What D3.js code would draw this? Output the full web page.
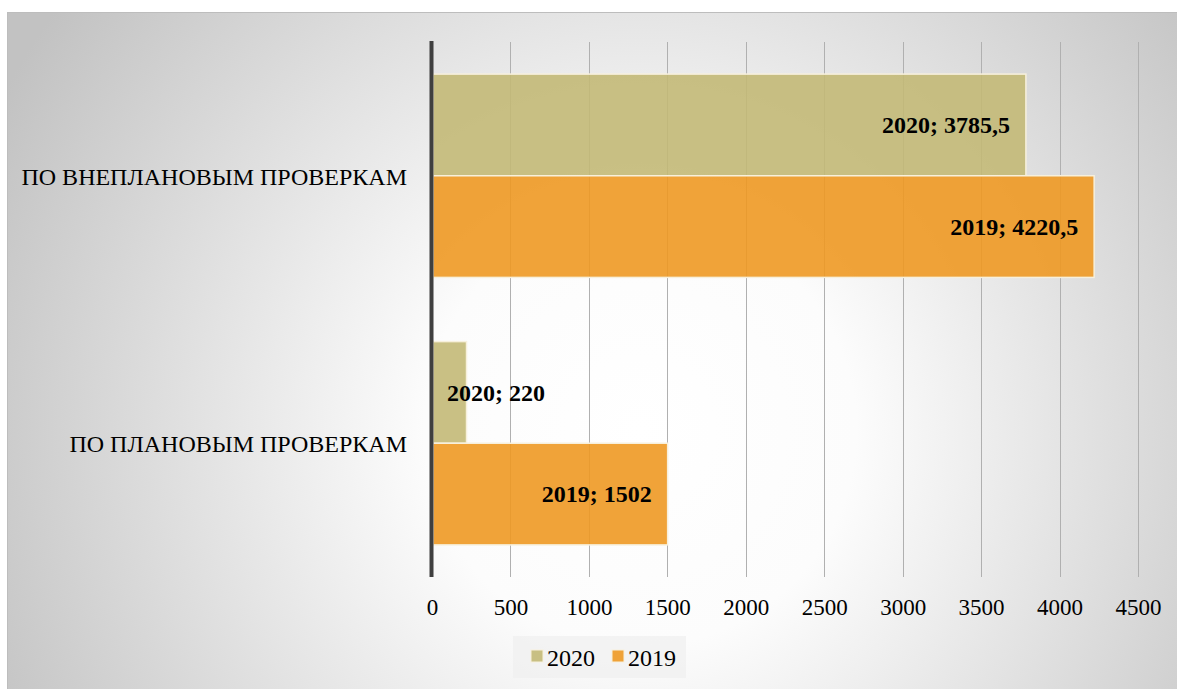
<!DOCTYPE html>
<html>
<head>
<meta charset="utf-8">
<script src="https://cdn.jsdelivr.net/npm/d3@7"></script>
<style>
html, body { margin: 0; padding: 0; background: #ffffff; }
svg { display: block; }
svg text { font-family: "Liberation Serif", "Times New Roman", Times, "DejaVu Serif", serif; }
</style>
</head>
<body>
<svg id="chart" width="1177" height="689"></svg>
<script>
// ---- data ----
const categories = ["ПО ВНЕПЛАНОВЫМ ПРОВЕРКАМ", "ПО ПЛАНОВЫМ ПРОВЕРКАМ"];
const seriesNames = ["2020", "2019"];
const values2020 = [3785.5, 220];
const values2019 = [4220.5, 1502];
const labels2020 = ["3785,5", "220"];
const labels2019 = ["4220,5", "1502"];
const xTicks = [0, 500, 1000, 1500, 2000, 2500, 3000, 3500, 4000, 4500];
const colors = ["#c3b977", "#ee9924"];

const seriesValues = [values2020, values2019];
const seriesLabels = [labels2020, labels2019];

const svg = d3.select("#chart");
const W = 1177, H = 689;

// background with radial gradient
const defs = svg.append("defs");
const grad = defs.append("radialGradient")
  .attr("id", "bg").attr("gradientUnits", "userSpaceOnUse")
  .attr("cx", 640).attr("cy", 430).attr("r", 720);
grad.append("stop").attr("offset", "0").attr("stop-color", "#ffffff");
grad.append("stop").attr("offset", "0.3").attr("stop-color", "#fcfcfc");
grad.append("stop").attr("offset", "1").attr("stop-color", "#c2c2c2");

svg.append("rect").attr("x", 7.5).attr("y", 12.5).attr("width", W).attr("height", H)
  .attr("fill", "url(#bg)").attr("stroke", "#bdbdbd").attr("stroke-width", 1);

const plot = { left: 432, right: 1138, top: 42, bottom: 577 };

const x = d3.scaleLinear().domain([0, 4500]).range([plot.left, plot.right]);
const y = d3.scaleBand().domain(categories).range([plot.top, plot.bottom]).paddingInner(0.24).paddingOuter(0.12);
const ySub = d3.scaleBand().domain(seriesNames).range([0, y.bandwidth()]);

const serif = '"Liberation Serif", "Times New Roman", Times, serif';

// gridlines
svg.append("g").selectAll("line").data(xTicks.filter(d => d > 0)).join("line")
  .attr("x1", d => Math.round(x(d)) + 0.5).attr("x2", d => Math.round(x(d)) + 0.5)
  .attr("y1", plot.top).attr("y2", plot.bottom)
  .attr("stroke", "#b0b0b0").attr("stroke-width", 1);

// x tick labels via axis
const xAxis = d3.axisBottom(x).tickValues(xTicks).tickSize(0).tickPadding(0).tickFormat(d3.format("d"));
const gx = svg.append("g").attr("transform", `translate(0,${plot.bottom})`).call(xAxis)
  .attr("font-family", serif).attr("font-size", 23);
gx.select(".domain").remove();
gx.selectAll("text")
  .attr("y", 38).attr("dy", 0)
  .style("font-family", serif).style("font-size", "23px").attr("fill", "#000");

// bars
const groups = svg.append("g").selectAll("g").data(categories).join("g")
  .attr("transform", d => `translate(0,${y(d)})`);

seriesNames.forEach((s, si) => {
  groups.append("rect")
    .attr("x", x(0) + 1)
    .attr("y", ySub(s))
    .attr("width", (d, i) => x(seriesValues[si][i]) - x(0) - 1)
    .attr("height", ySub.bandwidth())
    .attr("fill", colors[si]).attr("fill-opacity", 0.9)
    .attr("stroke", "#f7f0dc").attr("stroke-width", 1.5);
});

// data labels
seriesNames.forEach((s, si) => {
  groups.append("text")
    .style("font-family", serif)
    .style("font-weight", "bold").style("font-size", "24px").attr("fill", "#000")
    .attr("y", ySub(s) + ySub.bandwidth() / 2).attr("dy", "0.35em")
    .text((d, i) => `${s}; ${seriesLabels[si][i]}`)
    .each(function (d, i) {
      const t = d3.select(this);
      const w = this.getComputedTextLength();
      const xe = x(seriesValues[si][i]);
      if (xe - x(0) > w + 30) {
        t.attr("x", xe - 16).attr("text-anchor", "end");
      } else {
        t.attr("x", x(0) + 15).attr("text-anchor", "start");
      }
    });
});

// category axis line
svg.append("line")
  .attr("x1", 431.5).attr("x2", 431.5).attr("y1", 41).attr("y2", plot.bottom)
  .attr("stroke", "#3f3f3f").attr("stroke-width", 4);

// category labels
svg.append("g").selectAll("text").data(categories).join("text")
  .attr("x", 407).attr("y", d => y(d) + y.bandwidth() / 2 + 9)
  .attr("text-anchor", "end")
  .style("font-family", serif)
  .style("font-size", "24px").attr("fill", "#000")
  .text(d => d);

// legend
const lg = svg.append("g");
lg.append("rect").attr("x", 513).attr("y", 636).attr("width", 173).attr("height", 42)
  .attr("fill", "#f0f0f0").attr("fill-opacity", 0.7);
const legendX = [531, 612];
seriesNames.forEach((s, si) => {
  lg.append("rect").attr("x", legendX[si]).attr("y", 650).attr("width", 12).attr("height", 12)
    .attr("fill", colors[si]).attr("fill-opacity", 0.9)
    .attr("stroke", "#f7f0dc").attr("stroke-width", 1);
  lg.append("text").attr("x", legendX[si] + 16).attr("y", 666)
    .style("font-family", serif)
    .style("font-size", "24px").attr("fill", "#000").text(s);
});
</script>
</body>
</html>
